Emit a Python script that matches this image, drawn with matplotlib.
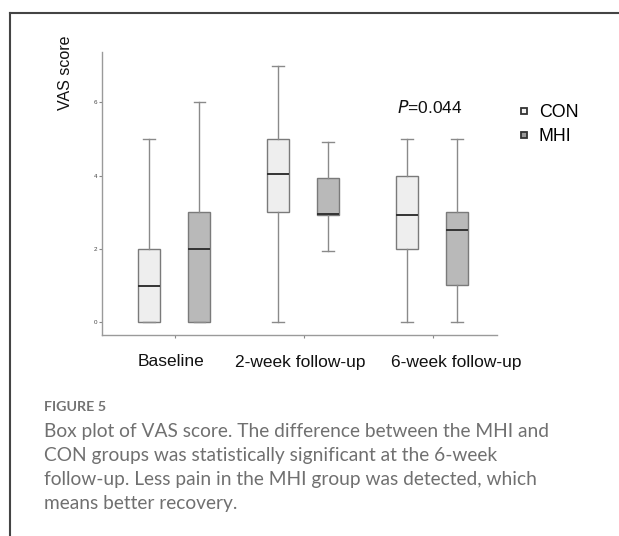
import numpy as np
import matplotlib
matplotlib.use('Agg')
import matplotlib.pyplot as plt
import matplotlib.transforms as mtransforms
from matplotlib.lines import Line2D

# box plot values
categories = ['Baseline', '2-week follow-up', '6-week follow-up']
groups = ['CON', 'MHI']
con_low = [0, 0, 0]
con_q1 = [0, 3, 2]
con_med = [0.97, 4.03, 2.92]
con_q3 = [2, 5, 4]
con_high = [5, 7, 5]
mhi_low = [0, 1.93, 0]
mhi_q1 = [0, 2.93, 1]
mhi_med = [2, 2.94, 2.52]
mhi_q3 = [3, 3.93, 3]
mhi_high = [6, 4.93, 5]
y_ticks = [0, 2, 4, 6]
p_text = '=0.044'

plt.rcParams['font.family'] = ['Liberation Sans', 'DejaVu Sans']

fig = plt.figure(figsize=(6.19, 5.36), dpi=100)
ax = fig.add_axes([102/619, 201/536, 395/619, 283/536])

x = np.arange(len(categories))


def stats(lo, q1, med, q3, hi):
    return [dict(whislo=a, q1=b, med=c, q3=d, whishi=e, fliers=[])
            for a, b, c, d, e in zip(lo, q1, med, q3, hi)]


common = dict(widths=0.17, patch_artist=True, showfliers=False,
              whiskerprops=dict(color='#8a8a8a', lw=1.0),
              capprops=dict(color='#8a8a8a', lw=1.0),
              medianprops=dict(color='#333333', lw=1.4))
b1 = ax.bxp(stats(con_low, con_q1, con_med, con_q3, con_high),
            positions=x - 0.2, boxprops=dict(facecolor='#eeeeee', edgecolor='#7a7a7a', lw=1.0), **common)
b2 = ax.bxp(stats(mhi_low, mhi_q1, mhi_med, mhi_q3, mhi_high),
            positions=x + 0.19, boxprops=dict(facecolor='#b9b9b9', edgecolor='#7a7a7a', lw=1.0), **common)
for c in b1['caps'] + b2['caps']:
    xd = c.get_xdata()
    m = (xd[0] + xd[1]) / 2
    c.set_xdata([m - 0.045, m + 0.045])

ax.set_xlim(-0.566, 2.5)
ax.set_ylim(-0.364, 7.38)
ax.set_xticks(x)
ax.set_xticklabels([])
# category labels, not quite centred under their ticks in the original
base = ax.get_xaxis_transform()
for xi, lab, dx in zip(x, categories, [-4, -4, 24]):
    tr = mtransforms.offset_copy(base, fig=fig, x=dx, y=-27, units='dots')
    ax.text(xi, 0, lab, transform=tr, fontsize=12.5, color='#111111', ha='center', va='center')
ax.set_yticks(y_ticks)
ax.set_yticklabels([str(t) for t in y_ticks], fontsize=4.5, color='#444444')
ax.tick_params(axis='x', length=2.5, color='#888888')
ax.tick_params(axis='y', length=2.5, color='#888888', pad=1)
for s in ['top', 'right']:
    ax.spines[s].set_visible(False)
for s in ['left', 'bottom']:
    ax.spines[s].set_color('#9a9a9a')
    ax.spines[s].set_linewidth(1.0)

ax.set_ylabel('VAS score', fontsize=11.5, color='#111111')
ax.yaxis.set_label_coords(-0.074, 0.926)

ax.text(1.977, 5.85, '$\\it{P}$' + p_text, fontsize=12.5, ha='center', va='center', color='#111111')

handles = [Line2D([], [], ls='', marker='s', ms=5, mfc='#f2f2f2', mec='#333333', mew=1.3),
           Line2D([], [], ls='', marker='s', ms=5, mfc='#9a9a9a', mec='#333333', mew=1.3)]
fig.legend(handles, groups, loc='upper left', bbox_to_anchor=(507/619, 1 - 95/536),
           frameon=False, fontsize=12.8, handlelength=0.9, handletextpad=0.4,
           labelspacing=0.4, borderpad=0)

# frame of the figure panel
fig.add_artist(Line2D([9.5/619, 9.5/619], [0, 1 - 12.5/536], color='#444444', lw=1.5))
fig.add_artist(Line2D([9.5/619, 1], [1 - 12.5/536, 1 - 12.5/536], color='#444444', lw=1.5))

cap_font = ['Lato', 'DejaVu Sans']
fig.text(44/619, 1 - 407/536, 'FIGURE 5', fontsize=10.3, color='#737373', family=cap_font,
         weight='bold', va='center')
caption = ['Box plot of VAS score. The difference between the MHI and',
           'CON groups was statistically significant at the 6-week',
           'follow-up. Less pain in the MHI group was detected, which',
           'means better recovery.']
for i, line in enumerate(caption):
    fig.text(44/619, 1 - (431 + 24*i)/536, line, fontsize=13.8, color='#707070',
             family=cap_font, va='center')

fig.savefig('out.png', dpi=100)
